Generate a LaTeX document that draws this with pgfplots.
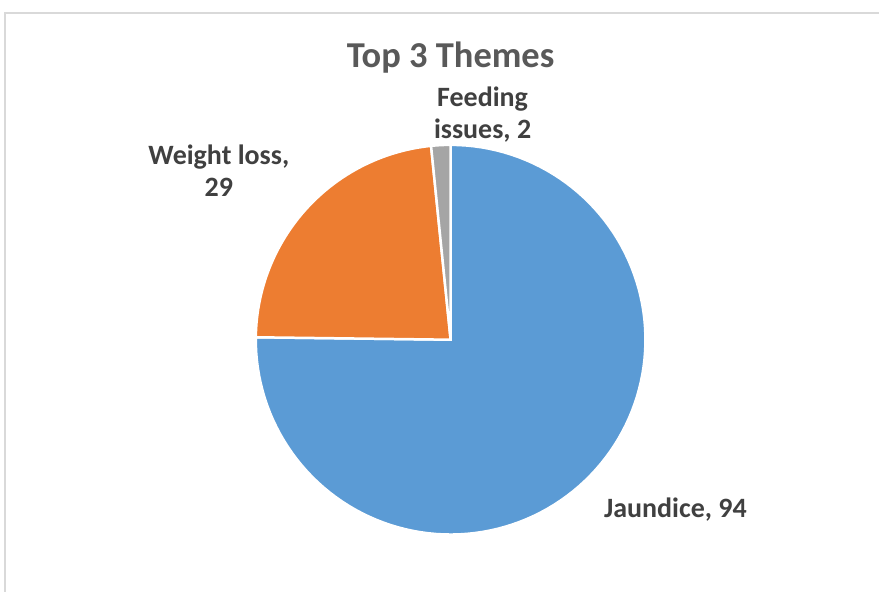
\documentclass[border=0pt]{standalone}
\usepackage{pgfplots}
\usepackage{pgfplotstable}
\pgfplotsset{compat=1.18}
\usepackage{fontspec}
\setmainfont{Carlito}
\definecolor{cblue}{HTML}{5B9BD5}
\definecolor{corange}{HTML}{ED7D31}
\definecolor{cgray}{HTML}{A5A5A5}
\definecolor{ctitle}{HTML}{595959}
\definecolor{clabel}{HTML}{404040}
\definecolor{cframe}{HTML}{D9D9D9}
\pgfplotstableread{
label value
Jaundice 94
Weight 29
Feeding 2
}\piedata
\begin{document}
\begin{tikzpicture}
\pgfplotstablegetelem{0}{value}\of\piedata \let\va\pgfplotsretval
\pgfplotstablegetelem{1}{value}\of\piedata \let\vb\pgfplotsretval
\pgfplotstablegetelem{2}{value}\of\piedata \let\vc\pgfplotsretval
\pgfmathsetmacro{\tot}{\va+\vb+\vc}
\pgfmathsetmacro{\aA}{90}
\pgfmathsetmacro{\aB}{90-360*(\va/\tot)}
\pgfmathsetmacro{\aC}{\aB-360*(\vb/\tot)}
\pgfmathsetmacro{\aD}{\aC-360*(\vc/\tot)}
\def\cx{451}\def\cy{252}\def\rr{195}
\begin{axis}[
  width=880pt, height=592pt, scale only axis,
  xmin=0, xmax=880, ymin=0, ymax=592,
  hide axis, clip=false,
]
\fill[white] (rel axis cs:0,0) rectangle (rel axis cs:1,1);
\draw[cframe, line width=1.5pt] (axis cs:5,0) -- (axis cs:5,579) -- (axis cs:880,579);
\addplot[fill=cblue, draw=white, line width=2.5pt, domain=\aB:\aA, samples=120, variable=\t]
  ({\cx+\rr*cos(\t)},{\cy+\rr*sin(\t)}) -- (axis cs:\cx,\cy) -- cycle;
\addplot[fill=corange, draw=white, line width=2.5pt, domain=\aC:\aB, samples=60, variable=\t]
  ({\cx+\rr*cos(\t)},{\cy+\rr*sin(\t)}) -- (axis cs:\cx,\cy) -- cycle;
\addplot[fill=cgray, draw=white, line width=2.5pt, domain=\aD:\aC, samples=10, variable=\t]
  ({\cx+\rr*cos(\t)},{\cy+\rr*sin(\t)}) -- (axis cs:\cx,\cy) -- cycle;
\node[text=ctitle, font=\fontsize{36.5}{44}\selectfont\bfseries] at (axis cs:451,534) {Top 3 Themes};
\node[text=clabel, font=\fontsize{28}{32}\selectfont\bfseries] at (axis cs:676,82) {Jaundice, 94};
\node[text=clabel, font=\fontsize{28}{32}\selectfont\bfseries, align=center] at (axis cs:219,421) {Weight loss,\\29};
\node[text=clabel, font=\fontsize{28}{32}\selectfont\bfseries, align=center] at (axis cs:483,477) {Feeding\\issues, 2};
\end{axis}
\end{tikzpicture}
\end{document}
